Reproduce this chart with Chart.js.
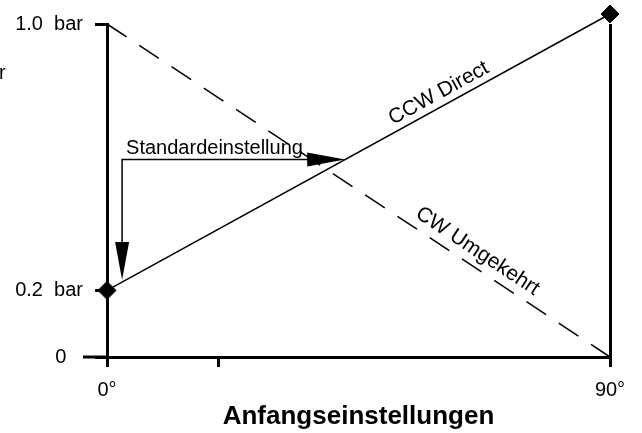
<!DOCTYPE html>
<html>
<head>
<meta charset="utf-8">
<script src="https://cdn.jsdelivr.net/npm/chart.js@4"></script>
<style>
  body { margin: 0; background: #fff; }
</style>
</head>
<body>
<canvas id="druck" width="642" height="433"></canvas>
<script>
const winkel = [0, 90];
const ccwDirect = [0.2, 1.03];
const cwUmgekehrt = [1.0, 0];
const yTicks = [0, 0.2, 1.0];
const xTicks = [0, 20, 90];
const fontName = '"Liberation Sans", Arial, sans-serif';

// where the "Standardeinstellung" arrows bend (degrees / bar)
const eckeWinkel = 2.7;
const eckeDruck = 0.593;

function ccwAt(w) {
  return ccwDirect[0] + (ccwDirect[1] - ccwDirect[0]) * (w - winkel[0]) / (winkel[1] - winkel[0]);
}
function winkelAtCcw(d) {
  return winkel[0] + (winkel[1] - winkel[0]) * (d - ccwDirect[0]) / (ccwDirect[1] - ccwDirect[0]);
}

function arrowHead(ctx, tx, ty, dx, dy) {
  const len = 38, half = 7;
  ctx.beginPath();
  ctx.moveTo(tx, ty);
  ctx.lineTo(tx - dx * len - dy * half, ty - dy * len + dx * half);
  ctx.lineTo(tx - dx * len + dy * half, ty - dy * len - dx * half);
  ctx.closePath();
  ctx.fill();
}

function lineLabel(ctx, x, y, werte, w, text, off) {
  const a = [x.getPixelForValue(winkel[0]), y.getPixelForValue(werte[0])];
  const b = [x.getPixelForValue(winkel[1]), y.getPixelForValue(werte[1])];
  const at = werte[0] + (werte[1] - werte[0]) * w / (winkel[1] - winkel[0]);
  ctx.save();
  ctx.translate(x.getPixelForValue(w), y.getPixelForValue(at));
  ctx.rotate(Math.atan2(b[1] - a[1], b[0] - a[0]));
  ctx.textAlign = 'center';
  ctx.textBaseline = 'middle';
  ctx.fillText(text, 0, off);
  ctx.restore();
}

const notes = {
  id: 'notes',
  afterDatasetsDraw(chart) {
    const { ctx, chartArea, scales: { x, y } } = chart;
    ctx.save();
    ctx.fillStyle = '#000';
    ctx.strokeStyle = '#000';

    // x axis runs on left of the y axis
    ctx.lineWidth = 3;
    ctx.beginPath();
    ctx.moveTo(chartArea.left - 24, y.getPixelForValue(0));
    ctx.lineTo(chartArea.left, y.getPixelForValue(0));
    ctx.stroke();

    // arrows
    const cx = x.getPixelForValue(eckeWinkel);
    const cy = y.getPixelForValue(eckeDruck);
    const hx = x.getPixelForValue(winkelAtCcw(eckeDruck));
    const vy = y.getPixelForValue(ccwAt(eckeWinkel)) - 2;
    ctx.lineWidth = 1.5;
    ctx.beginPath();
    ctx.moveTo(hx - 20, cy);
    ctx.lineTo(cx, cy);
    ctx.lineTo(cx, vy - 20);
    ctx.stroke();
    arrowHead(ctx, hx, cy, 1, 0);
    arrowHead(ctx, cx, vy, 0, 1);

    ctx.font = '20px ' + fontName;
    ctx.textAlign = 'left';
    ctx.textBaseline = 'alphabetic';
    ctx.fillText('Standardeinstellung', cx + 4, cy - 6);

    // cut off letter at the left edge
    ctx.fillText('r', -1, 79);

    ctx.font = '21px ' + fontName;
    lineLabel(ctx, x, y, ccwDirect, 60.5, 'CCW Direct', -13);
    lineLabel(ctx, x, y, cwUmgekehrt, 64.8, 'CW Umgekehrt', -15);

    ctx.restore();
  }
};

new Chart(document.getElementById('druck'), {
  type: 'scatter',
  data: {
    datasets: [{
      label: 'CW Umgekehrt',
      data: winkel.map((w, i) => ({ x: w, y: cwUmgekehrt[i] })),
      showLine: true,
      borderColor: '#000',
      borderWidth: 1.5,
      borderDash: [23.5, 15.2],
      pointRadius: 0,
      clip: false
    }, {
      label: 'CCW Direct',
      data: winkel.map((w, i) => ({ x: w, y: ccwDirect[i] })),
      showLine: true,
      borderColor: '#000',
      borderWidth: 1.5,
      backgroundColor: '#000',
      pointStyle: 'rectRot',
      pointRadius: 9,
      pointBorderWidth: 1,
      clip: false
    }]
  },
  options: {
    responsive: false,
    animation: false,
    events: [],
    layout: { padding: { top: 23, right: 32, left: 0, bottom: 0 } },
    plugins: {
      legend: { display: false },
      tooltip: { enabled: false }
    },
    scales: {
      x: {
        type: 'linear',
        min: 0,
        max: 90,
        afterBuildTicks: s => { s.ticks = xTicks.map(v => ({ value: v })); },
        afterFit: s => { s.height = 76; },
        title: {
          display: true,
          text: 'Anfangseinstellungen',
          color: '#000',
          font: { family: fontName, size: 26, weight: 'bold' },
          padding: { top: 0, bottom: 1 }
        },
        ticks: {
          callback: v => v === 20 ? '' : v + '°',
          color: '#000',
          font: { family: fontName, size: 20 },
          padding: 11,
          maxRotation: 0
        },
        grid: {
          color: c => c.tick && c.tick.value === 90 ? '#000' : 'rgba(0,0,0,0)',
          lineWidth: 3,
          tickColor: '#000',
          tickWidth: 3,
          tickLength: 10
        },
        border: { display: true, color: '#000', width: 3 }
      },
      y: {
        type: 'linear',
        min: 0,
        max: 1,
        afterBuildTicks: s => { s.ticks = yTicks.map(v => ({ value: v })); },
        afterFit: s => { s.width = 107; },
        ticks: {
          callback: v => v === 0 ? '0   ' : v.toFixed(1) + '  bar',
          color: '#000',
          font: { family: fontName, size: 20 },
          padding: 12
        },
        grid: {
          drawOnChartArea: false,
          tickColor: '#000',
          tickWidth: 3,
          tickLength: 12
        },
        border: { display: true, color: '#000', width: 3 }
      }
    }
  },
  plugins: [notes]
});
</script>
</body>
</html>
